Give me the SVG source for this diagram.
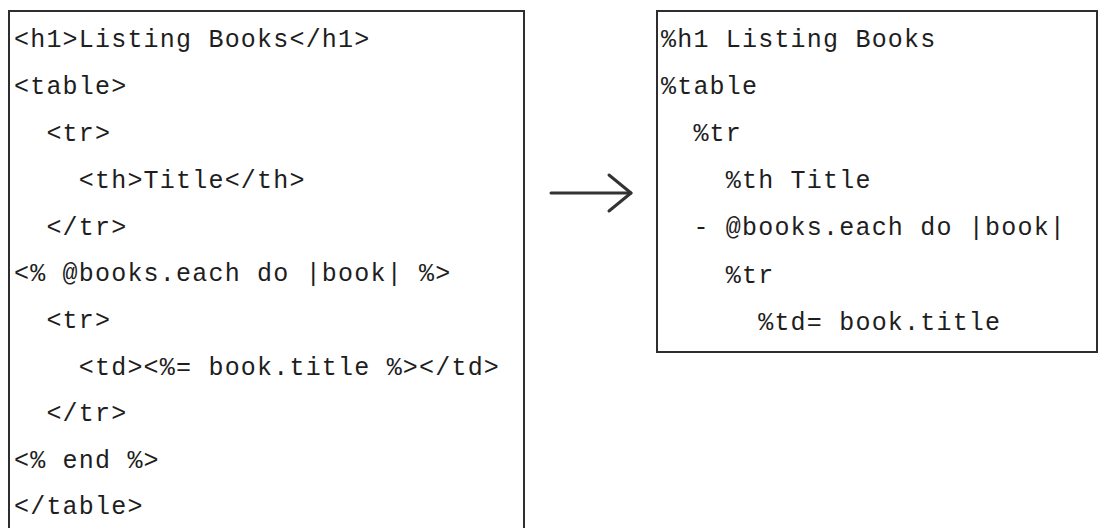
<svg xmlns="http://www.w3.org/2000/svg" width="1099" height="528" viewBox="0 0 1099 528">
  <style>
    .box { fill: #ffffff; stroke: #2e2e2e; stroke-width: 2; }
    .code { font-family: "Liberation Mono", "DejaVu Sans Mono", monospace; font-size: 25px; letter-spacing: 1.2px; fill: #1e1e1e; white-space: pre; }
    .arrow { fill: none; stroke: #333333; stroke-width: 3; stroke-linecap: round; stroke-linejoin: round; }
  </style>
  <rect width="1099" height="528" fill="#ffffff"/>

  <!-- ERB template -->
  <g id="erb-source">
    <rect class="box" x="9" y="11" width="515" height="530"/>
    <text class="code" xml:space="preserve" x="14" y="47">&lt;h1&gt;Listing Books&lt;/h1&gt;</text>
    <text class="code" xml:space="preserve" x="14" y="94">&lt;table&gt;</text>
    <text class="code" xml:space="preserve" x="14" y="141">  &lt;tr&gt;</text>
    <text class="code" xml:space="preserve" x="14" y="188">    &lt;th&gt;Title&lt;/th&gt;</text>
    <text class="code" xml:space="preserve" x="14" y="235">  &lt;/tr&gt;</text>
    <text class="code" xml:space="preserve" x="14" y="281">&lt;% @books.each do |book| %&gt;</text>
    <text class="code" xml:space="preserve" x="14" y="328">  &lt;tr&gt;</text>
    <text class="code" xml:space="preserve" x="14" y="375">    &lt;td&gt;&lt;%= book.title %&gt;&lt;/td&gt;</text>
    <text class="code" xml:space="preserve" x="14" y="421">  &lt;/tr&gt;</text>
    <text class="code" xml:space="preserve" x="14" y="468">&lt;% end %&gt;</text>
    <text class="code" xml:space="preserve" x="14" y="514">&lt;/table&gt;</text>
  </g>

  <!-- Haml equivalent -->
  <g id="haml-result">
    <rect class="box" x="657" y="11" width="440" height="341"/>
    <text class="code" xml:space="preserve" x="661" y="47">%h1 Listing Books</text>
    <text class="code" xml:space="preserve" x="661" y="94">%table</text>
    <text class="code" xml:space="preserve" x="661" y="141">  %tr</text>
    <text class="code" xml:space="preserve" x="661" y="188">    %th Title</text>
    <text class="code" xml:space="preserve" x="661" y="235">  - @books.each do |book|</text>
    <text class="code" xml:space="preserve" x="661" y="283">    %tr</text>
    <text class="code" xml:space="preserve" x="661" y="330">      %td= book.title</text>
  </g>

  <!-- conversion arrow -->
  <g id="connectors">
    <path class="arrow" d="M551 193 H631"/>
    <path class="arrow" d="M609 175 L631 193 L609 211"/>
  </g>
</svg>
